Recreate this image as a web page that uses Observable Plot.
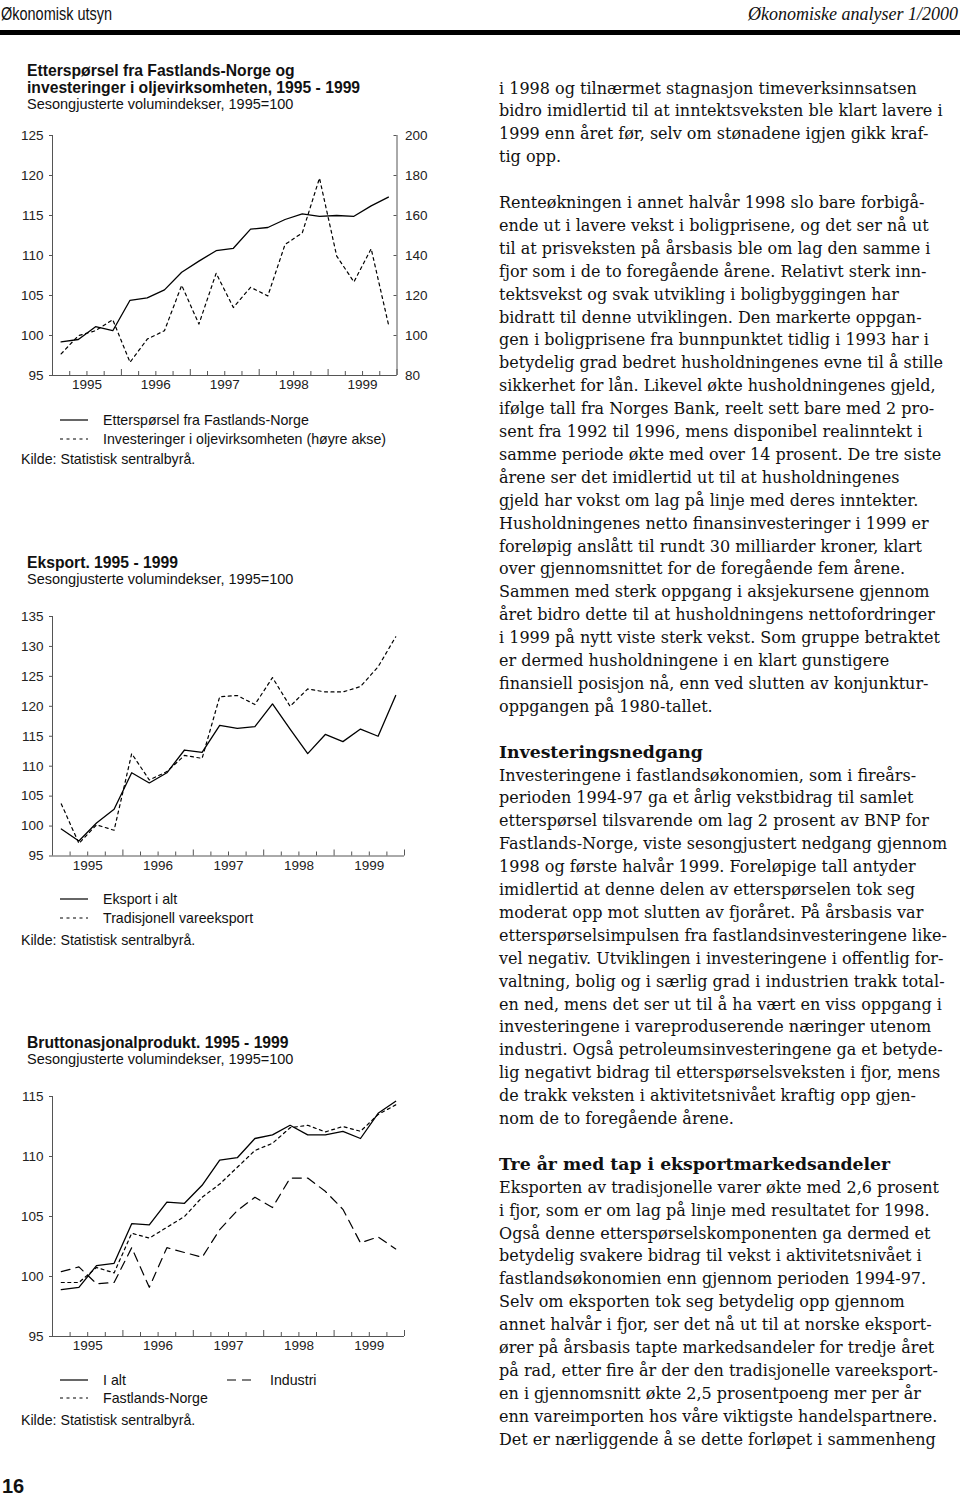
<!DOCTYPE html>
<html><head><meta charset="utf-8">
<script src="https://cdn.jsdelivr.net/npm/d3@7"></script>
<script src="https://cdn.jsdelivr.net/npm/@observablehq/plot@0.6"></script>
<style>
html,body{margin:0;padding:0;background:#fff}
body{width:960px;height:1495px;position:relative;overflow:hidden;font-family:"Liberation Sans",Arial,sans-serif;color:#111}
.abs{position:absolute;white-space:nowrap}
.sans{font-family:"Liberation Sans",Arial,sans-serif;font-size:14.2px;line-height:17px}
.ttl{font-family:"Liberation Sans",Arial,sans-serif;font-size:15.7px;font-weight:bold;line-height:17px}
.sub{font-family:"Liberation Sans",Arial,sans-serif;font-size:14.5px;line-height:17px}
.body{font-family:"DejaVu Serif",serif;font-size:15px;line-height:23px;color:#111}
.head{font-family:"DejaVu Serif",serif;font-weight:bold;font-size:16px;line-height:23px;color:#111}
svg.leg{position:absolute;overflow:visible}
</style></head><body>
<script>
// ---------- DATA ----------
const years = [1995, 1996, 1997, 1998, 1999];
// quarterly values, 1995K1 .. 1999K4
const ettersporsel = [99.2, 99.5, 101.1, 100.6, 104.4, 104.7, 105.7, 107.9, 109.3, 110.6, 110.9, 113.3, 113.5, 114.5, 115.2, 114.9, 115.0, 114.9, 116.2, 117.3];
const oljeinvestering = [90.8, 99.9, 102.4, 107.9, 86.6, 98.2, 102.4, 125.1, 105.7, 131.1, 114.0, 124.1, 119.8, 145.5, 151.3, 178.7, 139.7, 126.8, 143.4, 105.7];
const eksportIalt = [99.5, 97.5, 100.5, 102.8, 108.9, 107.2, 108.9, 112.7, 112.3, 116.8, 116.3, 116.6, 120.4, 116.2, 112.1, 115.3, 114.1, 116.2, 115.0, 121.8];
const tradVareeksport = [103.7, 97.1, 100.2, 99.3, 112.1, 107.7, 109.1, 111.8, 111.3, 121.6, 121.8, 120.3, 124.8, 120.0, 122.9, 122.4, 122.4, 123.3, 126.6, 131.6];
const bnpIalt = [98.9, 99.1, 100.9, 101.1, 104.4, 104.3, 106.2, 106.1, 107.6, 109.7, 109.9, 111.5, 111.8, 112.6, 111.8, 111.8, 112.1, 111.5, 113.6, 114.6];
const bnpFastland = [99.5, 99.5, 100.75, 100.3, 103.6, 103.2, 104.1, 105.0, 106.6, 107.7, 109.1, 110.5, 111.1, 112.4, 112.6, 112.05, 112.5, 112.1, 113.5, 114.3];
const bnpIndustri = [100.4, 100.8, 99.4, 99.5, 102.4, 99.1, 102.4, 102.0, 101.6, 103.9, 105.5, 106.6, 105.75, 108.2, 108.2, 107.1, 105.6, 102.8, 103.3, 102.3];

const ticks1Left = [95, 100, 105, 110, 115, 120, 125];
const ticks1Right = [80, 100, 120, 140, 160, 180, 200];
const ticks2 = [95, 100, 105, 110, 115, 120, 125, 130, 135];
const ticks3 = [95, 100, 105, 110, 115];

const title1 = ["Etterspørsel fra Fastlands-Norge og", "investeringer i oljevirksomheten, 1995 - 1999"];
const title2 = ["Eksport. 1995 - 1999"];
const title3 = ["Bruttonasjonalprodukt. 1995 - 1999"];
const subtitle = "Sesongjusterte volumindekser, 1995=100";
const source = "Kilde:  Statistisk sentralbyrå.";
const legend1 = ["Etterspørsel fra Fastlands-Norge", "Investeringer i oljevirksomheten (høyre akse)"];
const legend2 = ["Eksport i alt", "Tradisjonell vareeksport"];
const legend3 = ["I alt", "Fastlands-Norge", "Industri"];

const bodyLines = [
"i 1998 og tilnærmet stagnasjon timeverksinnsatsen",
"bidro imidlertid til at inntektsveksten ble klart lavere i",
"1999 enn året før, selv om stønadene igjen gikk kraf-",
"tig opp.",
"",
"Renteøkningen i annet halvår 1998 slo bare forbigå-",
"ende ut i lavere vekst i boligprisene, og det ser nå ut",
"til at prisveksten på årsbasis ble om lag den samme i",
"fjor som i de to foregående årene. Relativt sterk inn-",
"tektsvekst og svak utvikling i boligbyggingen har",
"bidratt til denne utviklingen. Den markerte oppgan-",
"gen i boligprisene fra bunnpunktet tidlig i 1993 har i",
"betydelig grad bedret husholdningenes evne til å stille",
"sikkerhet for lån. Likevel økte husholdningenes gjeld,",
"ifølge tall fra Norges Bank, reelt sett bare med 2 pro-",
"sent fra 1992 til 1996, mens disponibel realinntekt i",
"samme periode økte med over 14 prosent. De tre siste",
"årene ser det imidlertid ut til at husholdningenes",
"gjeld har vokst om lag på linje med deres inntekter.",
"Husholdningenes netto finansinvesteringer i 1999 er",
"foreløpig anslått til rundt 30 milliarder kroner, klart",
"over gjennomsnittet for de foregående fem årene.",
"Sammen med sterk oppgang i aksjekursene gjennom",
"året bidro dette til at husholdningens nettofordringer",
"i 1999 på nytt viste sterk vekst. Som gruppe betraktet",
"er dermed husholdningene i en klart gunstigere",
"finansiell posisjon nå, enn ved slutten av konjunktur-",
"oppgangen på 1980-tallet.",
"",
"#Investeringsnedgang",
"Investeringene i fastlandsøkonomien, som i fireårs-",
"perioden 1994-97 ga et årlig vekstbidrag til samlet",
"etterspørsel tilsvarende om lag 2 prosent av BNP for",
"Fastlands-Norge, viste sesongjustert nedgang gjennom",
"1998 og første halvår 1999. Foreløpige tall antyder",
"imidlertid at denne delen av etterspørselen tok seg",
"moderat opp mot slutten av fjoråret. På årsbasis var",
"etterspørselsimpulsen fra fastlandsinvesteringene like-",
"vel negativ. Utviklingen i investeringene i offentlig for-",
"valtning, bolig og i særlig grad i industrien trakk total-",
"en ned, mens det ser ut til å ha vært en viss oppgang i",
"investeringene i vareproduserende næringer utenom",
"industri. Også petroleumsinvesteringene ga et betyde-",
"lig negativt bidrag til etterspørselsveksten i fjor, mens",
"de trakk veksten i aktivitetsnivået kraftig opp gjen-",
"nom de to foregående årene.",
"",
"#Tre år med tap i eksportmarkedsandeler",
"Eksporten av tradisjonelle varer økte med 2,6 prosent",
"i fjor, som er om lag på linje med resultatet for 1998.",
"Også denne etterspørselskomponenten ga dermed et",
"betydelig svakere bidrag til vekst i aktivitetsnivået i",
"fastlandsøkonomien enn gjennom perioden 1994-97.",
"Selv om eksporten tok seg betydelig opp gjennom",
"annet halvår i fjor, ser det nå ut til at norske eksport-",
"ører på årsbasis tapte markedsandeler for tredje året",
"på rad, etter fire år der den tradisjonelle vareeksport-",
"en i gjennomsnitt økte 2,5 prosentpoeng mer per år",
"enn vareimporten hos våre viktigste handelspartnere.",
"Det er nærliggende å se dette forløpet i sammenheng"
];

// ---------- LAYOUT HELPERS ----------
const body = document.body;
function text(str, x, yc, cls, lh = 17, extra = "") {
  const d = document.createElement("div");
  d.className = "abs " + cls;
  d.style.left = x + "px";
  d.style.top = (yc - lh / 2) + "px";
  d.style.lineHeight = lh + "px";
  d.style.cssText += extra;
  d.textContent = str;
  body.appendChild(d);
  return d;
}
function legLine(x1, x2, y, dash) {
  const ns = "http://www.w3.org/2000/svg";
  const s = document.createElementNS(ns, "svg");
  s.setAttribute("class", "leg");
  s.setAttribute("width", x2 - x1);
  s.setAttribute("height", 4);
  s.style.left = x1 + "px";
  s.style.top = (y - 2) + "px";
  const l = document.createElementNS(ns, "line");
  l.setAttribute("x1", 0); l.setAttribute("x2", x2 - x1);
  l.setAttribute("y1", 2); l.setAttribute("y2", 2);
  l.setAttribute("stroke", "#000");
  l.setAttribute("stroke-width", 1.2);
  if (dash) l.setAttribute("stroke-dasharray", dash);
  s.appendChild(l);
  body.appendChild(s);
}
function fitWidth(el, w) {
  const cur = el.getBoundingClientRect().width;
  el.style.transformOrigin = "0 50%";
  el.style.transform = `scaleX(${w / cur})`;
}

// ---------- HEADER ----------
const h1 = text("Økonomisk utsyn", 1, 14, "", 22, "font-family:'Liberation Sans Narrow','Liberation Sans',sans-serif;font-size:18px;color:#111;");
fitWidth(h1, 111);
const h2 = text("Økonomiske analyser 1/2000", 748, 14, "", 22, "font-family:'Liberation Serif',serif;font-style:italic;font-size:19px;color:#111;");
fitWidth(h2, 210);
const rule = document.createElement("div");
rule.style.cssText = "position:absolute;left:0;top:30px;width:960px;height:5px;background:#000";
body.appendChild(rule);
text("16", 2, 1486, "", 24, "font-family:'Liberation Sans',sans-serif;font-weight:bold;font-size:20px;");

// ---------- CHARTS ----------
const axisColor = "#555";
const tickFont = 13.5;
const xPos = i => years[0] + (i + 0.5) / 4;
const quarterTicks = years.flatMap(y => [y + 0.25, y + 0.5, y + 0.75]);
const yearTicks = years.map(y => y + 1);
const yearMids = years.map(y => y + 0.5);

function drawChart({top, svgH, plotTop, plotBottom, plotRight, yDomain, yTicks, series, right}) {
  const width = 440, marginLeft = 52;
  const marginTop = plotTop - top, marginBottom = top + svgH - plotBottom, marginRight = width - plotRight;
  const plotW = plotRight - marginLeft, plotH = plotBottom - plotTop;
  const marks = [
    Plot.ruleX([years[0]], {stroke: axisColor, strokeWidth: 1}),
    Plot.ruleY([yDomain[0]], {stroke: axisColor, strokeWidth: 1}),
    Plot.tickX(quarterTicks, {x: d => d, stroke: axisColor, insetTop: plotH - 4}),
    Plot.tickX(yearTicks, {x: d => d, stroke: axisColor, insetTop: plotH - 6}),
    Plot.axisY({ticks: yTicks, tickSize: 3, tickPadding: 6, label: null, stroke: axisColor, fill: "#222", fontSize: tickFont}),
    Plot.axisX({ticks: yearMids, tickFormat: d => String(Math.floor(d)), tickSize: 0, tickPadding: 4, label: null, fill: "#222", fontSize: tickFont})
  ];
  if (right) {
    const mapped = right.ticks.map(right.map);
    marks.push(
      Plot.ruleX([years[years.length - 1] + 1], {stroke: axisColor, strokeWidth: 1}),
      Plot.tickY(mapped, {y: d => d, stroke: axisColor, insetLeft: plotW - 3}),
      Plot.axisY({anchor: "right", ticks: mapped, tickFormat: right.unmap, tickSize: 0, tickPadding: 8, label: null, fill: "#222", fontSize: tickFont})
    );
  }
  for (const s of series) {
    const data = s.values.map((v, i) => ({x: xPos(i), y: s.map ? s.map(v) : v}));
    marks.push(Plot.line(data, {x: "x", y: "y", stroke: "#000", strokeWidth: s.width || 1.3, strokeDasharray: s.dash || null}));
  }
  const svg = Plot.plot({
    width, height: svgH, marginLeft, marginRight, marginTop, marginBottom,
    x: {domain: [years[0], years[years.length - 1] + 1]},
    y: {domain: yDomain},
    style: {fontFamily: "'Liberation Sans', Arial, sans-serif", fontSize: tickFont + "px", background: "transparent", overflow: "visible"},
    marks
  });
  svg.style.position = "absolute";
  svg.style.left = "0px";
  svg.style.top = top + "px";
  body.appendChild(svg);
}

// Chart 1 (dual axis)
const map1 = v => 95 + (v - 80) * 30 / 120;
const unmap1 = d => String(Math.round(80 + (d - 95) * 120 / 30));
text(title1[0], 27, 70, "ttl");
text(title1[1], 27, 87, "ttl");
text(subtitle, 27, 104, "sub");
drawChart({top: 115, svgH: 290, plotTop: 135, plotBottom: 375, plotRight: 396.5,
  yDomain: [95, 125], yTicks: ticks1Left,
  right: {ticks: ticks1Right, map: map1, unmap: unmap1},
  series: [
    {values: ettersporsel},
    {values: oljeinvestering, map: map1, dash: "3,3.5", width: 1.2}
  ]});
legLine(60, 88, 420, null);
text(legend1[0], 103, 420, "sans");
legLine(60, 88, 439, "3,3.5");
text(legend1[1], 103, 439, "sans");
text(source, 21, 459, "sans");

// Chart 2
text(title2[0], 27, 562, "ttl");
text(subtitle, 27, 579, "sub");
drawChart({top: 596, svgH: 290, plotTop: 616, plotBottom: 855.5, plotRight: 404,
  yDomain: [95, 135], yTicks: ticks2,
  series: [
    {values: eksportIalt},
    {values: tradVareeksport, dash: "3,3.5", width: 1.2}
  ]});
legLine(60, 88, 899, null);
text(legend2[0], 103, 899, "sans");
legLine(60, 88, 918, "3,3.5");
text(legend2[1], 103, 918, "sans");
text(source, 21, 940, "sans");

// Chart 3
text(title3[0], 27, 1042, "ttl");
text(subtitle, 27, 1059, "sub");
drawChart({top: 1076, svgH: 290, plotTop: 1096, plotBottom: 1336, plotRight: 404,
  yDomain: [95, 115], yTicks: ticks3,
  series: [
    {values: bnpIalt},
    {values: bnpFastland, dash: "3,3.5", width: 1.2},
    {values: bnpIndustri, dash: "9,6", width: 1.2}
  ]});
legLine(60, 88, 1380, null);
text(legend3[0], 103, 1380, "sans");
legLine(60, 88, 1398, "3,3.5");
text(legend3[1], 103, 1398, "sans");
legLine(227, 251, 1380, "9,6");
text(legend3[2], 270, 1380, "sans");
text(source, 21, 1420, "sans");

// ---------- BODY TEXT ----------
const colX = 499, colW = 444, lineStep = 22.9, firstY = 88;
const probe = text(bodyLines[1], colX, -100, "body", 23);
const bodySize = 15 * colW / probe.getBoundingClientRect().width;
probe.remove();
const probeH = text("Investeringsnedgang", colX, -100, "head", 23);
const headSize = 16 * 204 / probeH.getBoundingClientRect().width;
probeH.remove();
bodyLines.forEach((ln, i) => {
  if (!ln) return;
  const y = firstY + i * lineStep;
  if (ln.startsWith("#")) {
    text(ln.slice(1), colX, y, "head", 23, `font-size:${headSize}px;`);
  } else {
    text(ln, colX, y, "body", 23, `font-size:${bodySize}px;`);
  }
});
</script>
</body></html>
